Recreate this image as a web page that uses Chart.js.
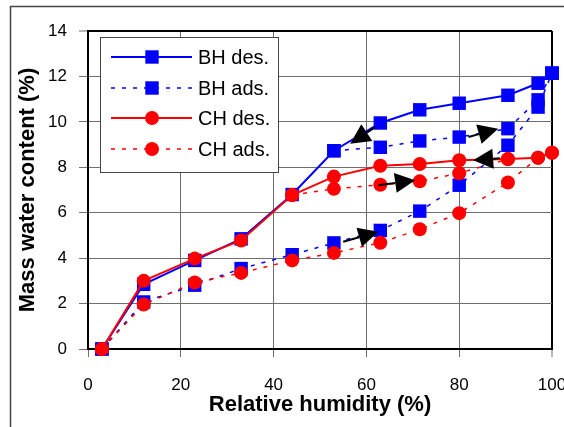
<!DOCTYPE html>
<html>
<head>
<meta charset="utf-8">
<script src="https://cdn.jsdelivr.net/npm/chart.js@4.4.0/dist/chart.umd.min.js"></script>
<style>
html, body { margin: 0; padding: 0; background: #fff; }
canvas { display: block; }
</style>
</head>
<body>
<canvas id="myChart" width="564" height="427"></canvas>
<script>
// relative humidity steps (%)
const rh = [3, 12, 23, 33, 44, 53, 63, 71.5, 80, 90.5, 97, 100];
const bhDes = [0, 2.85, 3.9, 4.85, 6.8, 8.73, 9.95, 10.53, 10.82, 11.17, 11.7, 12.14];
const bhAds = [0, 2.07, 2.81, 3.54, 4.15, 4.67, 5.22, 6.07, 7.21, 8.97, 10.65, 12.14];
const chDes = [0, 3.0, 3.98, 4.78, 6.78, 7.59, 8.07, 8.14, 8.31, 8.36, 8.42, 8.64];
const chAds = [0, 1.96, 2.93, 3.35, 3.9, 4.23, 4.68, 5.27, 5.98, 7.33, 8.42, 8.64];

// scanning (re-adsorption) branches
const rhBhScan = [53, 63, 71.5, 80, 90.5, 97, 100];
const bhScan = [8.73, 8.88, 9.16, 9.33, 9.70, 10.97, 12.14];
const rhChScan = [44, 53, 63, 71.5, 80, 90.5];
const chScan = [6.78, 7.05, 7.23, 7.38, 7.74, 8.36];

// arrows, in data units [rh, water]
const arrowTails = [[61.9, 9.77], [82.0, 9.33], [88.8, 8.40], [62.6, 7.21], [55.0, 4.72]];
const arrowTips  = [[56.5, 9.04], [88.4, 9.70], [83.0, 8.31], [70.5, 7.43], [62.6, 5.16]];

const legendLabels = ['BH des.', 'BH ads.', 'CH des.', 'CH ads.'];

function pts(xs, ys) {
    return xs.map((x, i) => ({x: x, y: ys[i]}));
}

const BLUE = '#0000FF';
const RED = '#FF0000';
const GRID = '#6e6e6e';

function series(label, xs, ys, color, style, dashed, order) {
    return {
        label: label,
        data: pts(xs, ys),
        showLine: true,
        borderColor: color,
        backgroundColor: color,
        borderWidth: dashed ? 1.5 : 2,
        borderDash: dashed ? [4, 7] : [],
        pointStyle: style,
        pointRadius: style === 'rect' ? 9.5 : 7,
        pointBorderWidth: 0,
        pointBackgroundColor: color,
        tension: 0,
        fill: false,
        clip: false,
        order: order
    };
}

const framePlugin = {
    id: 'frame',
    beforeDraw(chart) {
        const ctx = chart.ctx;
        ctx.save();
        ctx.fillStyle = '#fff';
        ctx.fillRect(0, 0, chart.width, chart.height);
        ctx.strokeStyle = '#444';
        ctx.lineWidth = 1.5;
        ctx.strokeRect(10.5, 6.5, 700, 600);
        ctx.restore();
    }
};

const legendPlugin = {
    id: 'boxLegend',
    afterDatasetsDraw(chart) {
        const ctx = chart.ctx;
        ctx.save();
        ctx.fillStyle = '#fff';
        ctx.fillRect(100, 37, 178, 135);
        ctx.strokeStyle = '#444';
        ctx.lineWidth = 1;
        ctx.strokeRect(100.5, 37.5, 178, 135);
        const rows = [57, 88, 118, 149];
        legendLabels.forEach((lab, i) => {
            const ds = chart.data.datasets.find(d => d.label === lab);
            const yy = rows[i];
            ctx.strokeStyle = ds.borderColor;
            ctx.lineWidth = ds.borderWidth;
            ctx.setLineDash(ds.borderDash);
            ctx.beginPath();
            ctx.moveTo(111, yy);
            ctx.lineTo(192, yy);
            ctx.stroke();
            ctx.setLineDash([]);
            ctx.fillStyle = ds.backgroundColor;
            if (ds.pointStyle === 'rect') {
                ctx.fillRect(152 - 6.7, yy - 6.7, 13.4, 13.4);
            } else {
                ctx.beginPath();
                ctx.arc(152, yy, 7, 0, Math.PI * 2);
                ctx.fill();
            }
            ctx.fillStyle = '#000';
            ctx.font = '20px "Liberation Sans", Arial, sans-serif';
            ctx.textBaseline = 'middle';
            ctx.textAlign = 'left';
            ctx.fillText(lab, 198, yy + 1);
        });
        ctx.restore();
    }
};

const arrowPlugin = {
    id: 'arrows',
    afterDatasetsDraw(chart) {
        const ctx = chart.ctx;
        const sx = chart.scales.x, sy = chart.scales.y;
        ctx.save();
        ctx.fillStyle = '#000';
        ctx.strokeStyle = '#000';
        ctx.lineWidth = 2;
        arrowTails.forEach((t, i) => {
            const x0 = sx.getPixelForValue(t[0]), y0 = sy.getPixelForValue(t[1]);
            const x1 = sx.getPixelForValue(arrowTips[i][0]), y1 = sy.getPixelForValue(arrowTips[i][1]);
            const a = Math.atan2(y1 - y0, x1 - x0);
            const hl = 20, hw = 10;
            const bx = x1 - hl * Math.cos(a), by = y1 - hl * Math.sin(a);
            ctx.beginPath();
            ctx.moveTo(x0, y0);
            ctx.lineTo(bx, by);
            ctx.stroke();
            ctx.beginPath();
            ctx.moveTo(x1, y1);
            ctx.lineTo(bx + hw * Math.sin(a), by - hw * Math.cos(a));
            ctx.lineTo(bx - hw * Math.sin(a), by + hw * Math.cos(a));
            ctx.closePath();
            ctx.fill();
        });
        ctx.restore();
    }
};

const tickFont = {family: '"Liberation Sans", Arial, sans-serif', size: 17};
const titleFont = {family: '"Liberation Sans", Arial, sans-serif', size: 22, weight: 'bold'};

const ctx = document.getElementById('myChart').getContext('2d');
const myChart = new Chart(ctx, {
    type: 'scatter',
    data: {
        datasets: [
            series('BH des.', rh, bhDes, BLUE, 'rect', false, 4),
            series('BH ads.', rh, bhAds, BLUE, 'rect', true, 3),
            series('BH ads. scanning', rhBhScan, bhScan, BLUE, 'rect', true, 3),
            series('CH des.', rh, chDes, RED, 'circle', false, 2),
            series('CH ads.', rh, chAds, RED, 'circle', true, 1),
            series('CH ads. scanning', rhChScan, chScan, RED, 'circle', true, 1)
        ]
    },
    options: {
        responsive: false,
        animation: false,
        layout: {
            padding: {top: 31, right: 12, left: 0, bottom: 0}
        },
        plugins: {
            legend: {display: false},
            tooltip: {enabled: false}
        },
        scales: {
            x: {
                type: 'linear',
                min: 0,
                max: 100,
                ticks: {stepSize: 20, font: tickFont, color: '#000', padding: 18, maxRotation: 0},
                grid: {
                    color: c => (c.tick && c.tick.value === 100) ? '#000' : GRID,
                    lineWidth: c => (c.tick && c.tick.value === 100) ? 2 : 1,
                    tickLength: 8,
                    tickColor: GRID,
                    tickWidth: 1
                },
                border: {display: true, color: '#000', width: 2},
                title: {
                    display: true,
                    text: 'Relative humidity (%)',
                    font: titleFont,
                    color: '#000',
                    padding: {top: 0, bottom: 9}
                },
                afterFit: s => { s.height = 78; s.paddingLeft = 0; s.paddingRight = 0; }
            },
            y: {
                min: 0,
                max: 14,
                ticks: {stepSize: 2, font: tickFont, color: '#000', padding: 12},
                grid: {
                    color: c => (c.tick && c.tick.value === 14) ? '#000' : GRID,
                    lineWidth: c => (c.tick && c.tick.value === 14) ? 2 : 1,
                    tickLength: 9,
                    tickColor: GRID,
                    tickWidth: 1
                },
                border: {display: true, color: '#000', width: 2},
                title: {
                    display: true,
                    text: 'Mass water content (%)',
                    font: titleFont,
                    color: '#000',
                    padding: {top: 15, bottom: 0}
                },
                afterFit: s => { s.width = 88; s.paddingTop = 0; s.paddingBottom = 0; }
            }
        }
    },
    plugins: [framePlugin, legendPlugin, arrowPlugin]
});
</script>
</body>
</html>
